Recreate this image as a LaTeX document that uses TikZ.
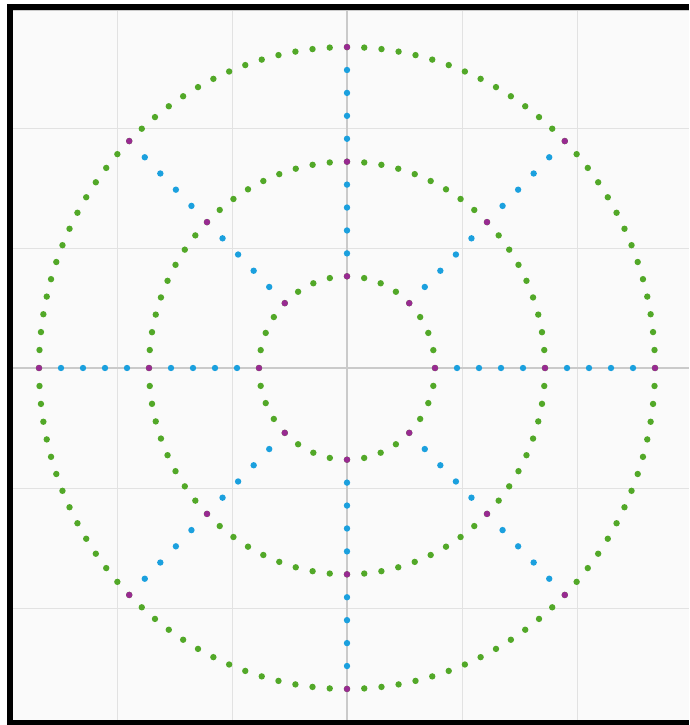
\documentclass[tikz,border=0pt]{standalone}
\definecolor{dotgreen}{RGB}{82,168,40}
\definecolor{dotblue}{RGB}{27,160,222}
\definecolor{dotmag}{RGB}{152,42,145}
\definecolor{bgc}{RGB}{250,250,250}
\definecolor{gridc}{RGB}{226,226,226}
\definecolor{axisc}{RGB}{202,202,202}
\tikzset{
  gridline/.style={draw=gridc, line width=1pt},
  axisline/.style={draw=axisc, line width=1.4pt},
  gdot/.style={fill=dotgreen},
  bdot/.style={fill=dotblue},
  mdot/.style={fill=dotmag},
}
\def\cx{347}\def\cy{368}\def\sy{1.042}\def\dr{3.2}
\begin{document}
\begin{tikzpicture}[x=1pt,y=-1pt]
\useasboundingbox (0,0) rectangle (689,725);
\fill[white] (0,0) rectangle (689,725);
\fill[bgc] (13,10.5) rectangle (689,719.5);
% grid
\foreach \gx in {117,232,462,577} \draw[gridline] (\gx,10.5) -- (\gx,719.5);
\foreach \gy in {128,248,488,608} \draw[gridline] (13,\gy) -- (689,\gy);
\draw[axisline] (\cx,10.5) -- (\cx,719.5);
\draw[axisline] (13,\cy) -- (689,\cy);
\draw[draw=axisc, line width=0.8pt] (13,10.9) -- (689,10.9);
% circles (green)
\foreach \r/\n in {88/32,198/72,308/112}{
  \pgfmathsetmacro\st{360/\n}
  \foreach \k in {1,...,\n}{
    \pgfmathsetmacro\a{\st*\k}
    \fill[gdot] ({\cx+\r*cos(\a)},{\cy-\sy*\r*sin(\a)}) circle (\dr);
  }
}
% spokes (blue)
\foreach \t in {0,45,...,315}{
  \foreach \r in {110,132,154,176,220,242,264,286}{
    \fill[bdot] ({\cx+\r*cos(\t)},{\cy-\sy*\r*sin(\t)}) circle (\dr);
  }
}
% intersections (magenta)
\foreach \t in {0,45,...,315}{
  \foreach \r in {88,198,308}{
    \fill[mdot] ({\cx+\r*cos(\t)},{\cy-\sy*\r*sin(\t)}) circle (\dr);
  }
}
% frame
\fill[black] (7,4) rectangle (689,10.5);
\fill[black] (7,4) rectangle (13,725);
\fill[black] (7,719.5) rectangle (689,725);
\end{tikzpicture}
\end{document}
